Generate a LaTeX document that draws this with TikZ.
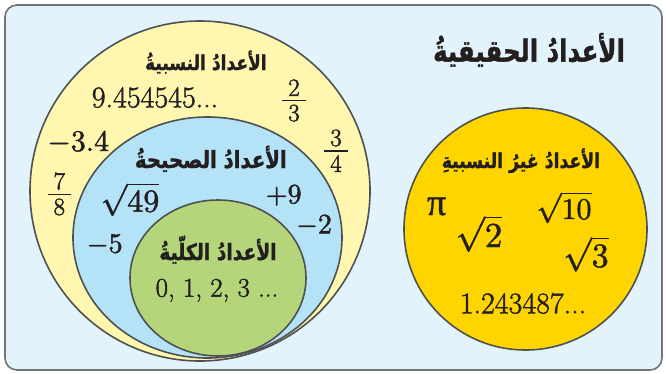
\documentclass[tikz,border=0pt]{standalone}
\usepackage{fontspec}
\usepackage{graphicx}
\usetikzlibrary{shapes.geometric}
\setmainfont{Latin Modern Roman}
\DeclareFontShape{OT1}{cmr}{m}{n}{<->cmr10}{}
\DeclareFontShape{OML}{cmm}{m}{it}{<->cmmi10}{}
\DeclareFontShape{OMS}{cmsy}{m}{n}{<->cmsy10}{}
\DeclareFontShape{OMX}{cmex}{m}{n}{<->cmex10}{}
\TeXXeTstate=1
\newfontfamily\arabicfont[Script=Arabic]{DejaVu Sans}
\newfontfamily\pifont{Liberation Serif}
\definecolor{framefill}{HTML}{E2F3FC}
\definecolor{linegray}{HTML}{4F5052}
\definecolor{ratfill}{HTML}{FFF7B0}
\definecolor{intfill}{HTML}{B4E3F8}
\definecolor{wholefill}{HTML}{B5D57B}
\definecolor{irrfill}{HTML}{FFD500}
\definecolor{textcol}{HTML}{231F20}
\newcommand\artxt[3]{\scalebox{1}[#2]{\resizebox{#1}{!}{\arabicfont\bfseries #3}}}
\newcommand\fsz[1]{\fontsize{#1}{#1}\selectfont}
\newcommand\heavytext{\special{pdf:literal direct 2 Tr 0.45 w}}
\newcommand\lighttext{\special{pdf:literal direct 2 Tr 0.15 w}}
\newcommand\plaintext{\special{pdf:literal direct 0 Tr}}
\newcommand\frc[2]{\fsz{25}\(\vcenter{\hbox{\vbox{\halign{\hfil##\hfil\cr\kern6pt#1\kern6pt\cr\noalign{\kern4pt\hrule height 1.2pt\kern3.5pt}\kern6pt#2\kern6pt\cr}}}}\)}
\tikzset{
  setshape/.style={ellipse, draw=linegray, line width=1.6pt, inner sep=0pt, outer sep=0pt},
  txt/.style={text=textcol, inner sep=0pt, anchor=base,
    execute at begin node=\heavytext, execute at end node=\plaintext},
  artx/.style={text=textcol, inner sep=0pt, anchor=base,
    execute at begin node=\lighttext, execute at end node=\plaintext},
  fracnode/.style={txt, anchor=center}
}
\begin{document}
\begin{tikzpicture}[x=1pt,y=-1pt]
\useasboundingbox (0,0) rectangle (666,373);
\draw[rounded corners=12pt, fill=framefill, draw=linegray!80, line width=1.6pt] (5,5) rectangle (662,370);
% sets
\node[setshape, fill=ratfill, minimum width=340pt, minimum height=340pt] (rat) at (200,191) {};
\node[setshape, fill=intfill, minimum width=269pt, minimum height=241pt] (int) at (207.5,237.5) {};
\node[setshape, fill=wholefill, minimum width=176pt, minimum height=156pt] (whole) at (218,278) {};
\node[setshape, fill=irrfill, minimum width=243pt, minimum height=242pt] (irr) at (525.5,229) {};
% labels
\node[artx] (title) at (529,61.7) {\artxt{191.7pt}{1.25}{\beginR الأعدادُ الحقيقيةُ\endR}};
\node[artx] (ratlbl) at (205.8,70) {\artxt{121.7pt}{1.2}{\beginR الأعدادُ النسبيةُ\endR}};
\node[artx] (intlbl) at (210.8,168) {\artxt{151.7pt}{1.2}{\beginR الأعدادُ الصحيحةُ\endR}};
\node[artx] (wholelbl) at (218,260) {\artxt{117.3pt}{1.2}{\beginR الأعدادُ الكلّيةُ\endR}};
\node[artx] (irrlbl) at (520.8,168) {\artxt{158.3pt}{1.2}{\beginR الأعدادُ غيرُ النسبيةِ\endR}};
% rational numbers
\node[txt] (n1) at (155,107.3) {\fsz{30}9.454545...};
\node[fracnode] (n2) at (294,100.5) {\frc23};
\node[txt] (n3) at (78.3,151) {\fsz{30}$-3.4$};
\node[fracnode] (n4) at (336,150.7) {\frc34};
\node[fracnode] (n5) at (59.3,194) {\frc78};
% integers
\node[txt] (n6) at (130,211.7) {\fsz{32}$\sqrt{49}$};
\node[txt] (n7) at (283.7,203.3) {\fsz{28}$+9$};
\node[txt] (n8) at (314,233.3) {\fsz{28}$-2$};
\node[txt] (n9) at (104.7,252.7) {\fsz{28}$-5$};
% whole numbers
\node[txt] (n10) at (217,296.7) {\fsz{27}0, 1, 2, 3 ...};
% irrational numbers
\node[txt] (i1) at (436.7,215) {\fsz{38}\pifont π};
\node[txt] (i2) at (564,219) {\fsz{30}$\sqrt{10}$};
\node[txt] (i3) at (479,247) {\fsz{35}$\sqrt{2}$};
\node[txt] (i4) at (586,267) {\fsz{34}$\sqrt{3}$};
\node[txt] (i5) at (523,313.3) {\fsz{30}1.243487...};
\end{tikzpicture}
\end{document}
